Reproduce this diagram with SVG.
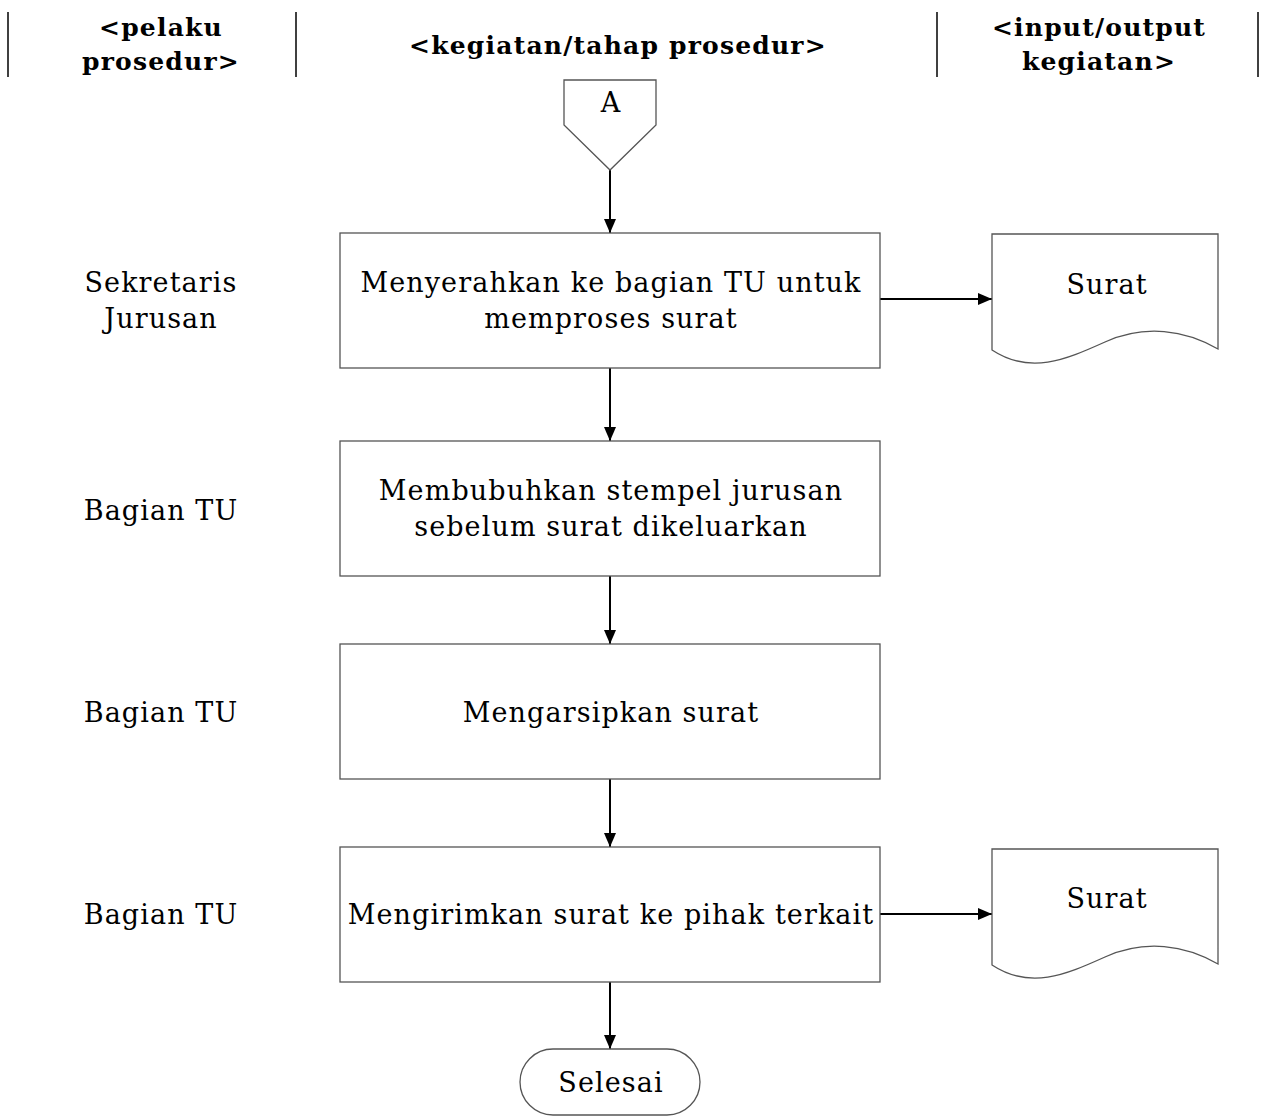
<svg xmlns="http://www.w3.org/2000/svg" width="1263" height="1117" viewBox="0 0 1263 1117">
<style>
.hd{font-family:"DejaVu Serif","Liberation Serif",serif;font-weight:bold;font-size:25px;letter-spacing:1.2px;text-anchor:middle;fill:#000}
.t{font-family:"DejaVu Serif","Liberation Serif",serif;font-size:27px;letter-spacing:1.1px;text-anchor:middle;fill:#000}
.shape{fill:#fff;stroke:#555;stroke-width:1.3}
.sep{stroke:#000;stroke-width:1.5}
.conn{stroke:#000;stroke-width:2;fill:none;marker-end:url(#ah)}
</style>
<defs>
<marker id="ah" markerWidth="14" markerHeight="12" refX="14" refY="6" orient="auto" markerUnits="userSpaceOnUse" viewBox="0 0 14 12">
<path d="M0,0 L14,6 L0,12 Z" fill="#000"/>
</marker>
</defs>
<rect width="1263" height="1117" fill="#fff"/>
<g id="header">
<line class="sep" x1="8" y1="12" x2="8" y2="77"/>
<line class="sep" x1="296" y1="12" x2="296" y2="77"/>
<line class="sep" x1="937" y1="12" x2="937" y2="77"/>
<line class="sep" x1="1258" y1="12" x2="1258" y2="77"/>
<text class="hd" x="161" y="36">&lt;pelaku</text>
<text class="hd" x="161" y="70">prosedur&gt;</text>
<text class="hd" x="618" y="54">&lt;kegiatan/tahap prosedur&gt;</text>
<text class="hd" x="1099" y="36">&lt;input/output</text>
<text class="hd" x="1099" y="70">kegiatan&gt;</text>
</g>
<g id="actors">
<text class="t" x="161" y="292">Sekretaris</text>
<text class="t" x="161" y="328">Jurusan</text>
<text class="t" x="161" y="520">Bagian TU</text>
<text class="t" x="161" y="722">Bagian TU</text>
<text class="t" x="161" y="924">Bagian TU</text>
</g>
<g id="connectors">
<line class="conn" x1="610" y1="170" x2="610" y2="233"/>
<line class="conn" x1="880" y1="299" x2="992" y2="299"/>
<line class="conn" x1="610" y1="368" x2="610" y2="441"/>
<line class="conn" x1="610" y1="576" x2="610" y2="644"/>
<line class="conn" x1="610" y1="779" x2="610" y2="847"/>
<line class="conn" x1="880" y1="914" x2="992" y2="914"/>
<line class="conn" x1="610" y1="982" x2="610" y2="1049"/>
</g>
<g id="offpage-A">
<path class="shape" d="M564,80 H656 V125 L610,170 L564,125 Z"/>
<text class="t" x="611" y="112">A</text>
</g>
<g id="step1">
<rect class="shape" x="340" y="233" width="540" height="135"/>
<text class="t" x="611" y="292">Menyerahkan ke bagian TU untuk</text>
<text class="t" x="611" y="328">memproses surat</text>
</g>
<g id="doc1">
<path class="shape" d="M992,234 H1218 V349 C1185,330 1145,324 1105,342 C1065,360 1030,375 992,350 Z"/>
<text class="t" x="1107" y="294">Surat</text>
</g>
<g id="step2">
<rect class="shape" x="340" y="441" width="540" height="135"/>
<text class="t" x="611" y="500">Membubuhkan stempel jurusan</text>
<text class="t" x="611" y="536">sebelum surat dikeluarkan</text>
</g>
<g id="step3">
<rect class="shape" x="340" y="644" width="540" height="135"/>
<text class="t" x="611" y="722">Mengarsipkan surat</text>
</g>
<g id="step4">
<rect class="shape" x="340" y="847" width="540" height="135"/>
<text class="t" x="611" y="924">Mengirimkan surat ke pihak terkait</text>
</g>
<g id="doc2">
<path class="shape" d="M992,849 H1218 V964 C1185,945 1145,939 1105,957 C1065,975 1030,990 992,965 Z"/>
<text class="t" x="1107" y="908">Surat</text>
</g>
<g id="end">
<rect class="shape" x="520" y="1049" width="180" height="66" rx="33" ry="33"/>
<text class="t" x="611" y="1092">Selesai</text>
</g>
</svg>
